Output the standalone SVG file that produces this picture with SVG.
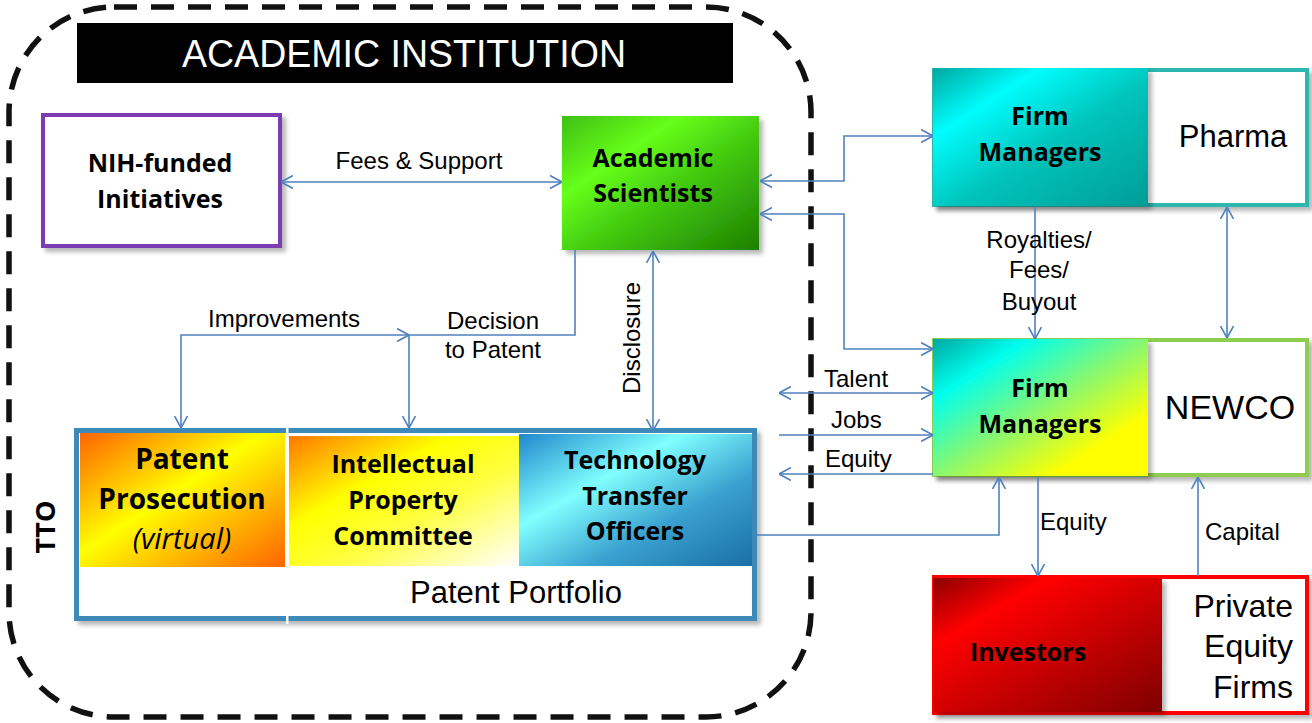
<svg xmlns="http://www.w3.org/2000/svg" width="1312" height="723" viewBox="0 0 1312 723">
<defs>
<style>
.bold{font-family:"Open Sans","Liberation Sans",sans-serif;font-weight:bold;font-size:25px;fill:#000;text-anchor:middle}
.lbl{font-family:"Liberation Sans",Arial,sans-serif;font-size:24px;fill:#000}
.big{font-family:"Liberation Sans",Arial,sans-serif;font-size:31px;fill:#000}
.con{fill:none;stroke:#4f81bd;stroke-width:1.6}
.both{marker-start:url(#ah);marker-end:url(#ah)}
.end{marker-end:url(#ah)}
</style>
<marker id="ah" viewBox="0 0 12 14" refX="12" refY="7" markerWidth="12" markerHeight="14" markerUnits="userSpaceOnUse" orient="auto-start-reverse">
<path d="M0,0.5 L12,7 L0,13.5" fill="none" stroke="#4f81bd" stroke-width="1.6"/>
</marker>
<filter id="sh" x="-10%" y="-10%" width="125%" height="130%">
<feDropShadow dx="4" dy="4" stdDeviation="2" flood-color="#000" flood-opacity="0.28"/>
</filter>
<linearGradient id="gGreen" x1="0" y1="0" x2="1" y2="1">
<stop offset="0" stop-color="#3fbf14"/><stop offset="0.3" stop-color="#66ff1a"/><stop offset="0.55" stop-color="#44cc10"/><stop offset="1" stop-color="#1d8000"/>
</linearGradient>
<linearGradient id="gTeal" x1="0" y1="0" x2="1" y2="1">
<stop offset="0" stop-color="#00a8a0"/><stop offset="0.25" stop-color="#00fdfd"/><stop offset="0.55" stop-color="#00c4bb"/><stop offset="1" stop-color="#009d96"/>
</linearGradient>
<linearGradient id="gNew" x1="0" y1="0" x2="1" y2="1">
<stop offset="0" stop-color="#00a8a0"/><stop offset="0.22" stop-color="#00ffee"/><stop offset="0.5" stop-color="#88f870"/><stop offset="0.78" stop-color="#ffff00"/><stop offset="1" stop-color="#ffff00"/>
</linearGradient>
<linearGradient id="gRed" x1="0" y1="0" x2="1" y2="1">
<stop offset="0" stop-color="#8c0000"/><stop offset="0.25" stop-color="#ff0000"/><stop offset="0.55" stop-color="#cc0000"/><stop offset="1" stop-color="#7e0000"/>
</linearGradient>
<linearGradient id="gOrange" x1="0" y1="0" x2="1" y2="1">
<stop offset="0" stop-color="#ff6400"/><stop offset="0.45" stop-color="#ffff00"/><stop offset="1" stop-color="#ff6400"/>
</linearGradient>
<linearGradient id="gIP" x1="0" y1="0" x2="1" y2="1">
<stop offset="0" stop-color="#ff7800"/><stop offset="0.35" stop-color="#ffff00"/><stop offset="0.6" stop-color="#ffff40"/><stop offset="1" stop-color="#ffffff"/>
</linearGradient>
<linearGradient id="gBlue" x1="0" y1="0" x2="1" y2="1">
<stop offset="0" stop-color="#1f88cc"/><stop offset="0.35" stop-color="#80ffff"/><stop offset="0.65" stop-color="#3aa2d0"/><stop offset="1" stop-color="#1a6ea6"/>
</linearGradient>
</defs>

<rect width="1312" height="723" fill="#fff"/>

<g id="academic-institution">
<rect x="9" y="7" width="802" height="710" rx="105" ry="105" fill="none" stroke="#111" stroke-width="5.5" stroke-dasharray="23 14"/>
<rect x="77" y="23" width="656" height="60" fill="#000"/>
<text x="404" y="67" font-family="Liberation Sans, Arial, sans-serif" font-size="38" fill="#fff" text-anchor="middle" textLength="444" lengthAdjust="spacingAndGlyphs">ACADEMIC INSTITUTION</text>
</g>

<g id="nih">
<rect x="43" y="115" width="237" height="131" fill="#fff" stroke="#7b3db3" stroke-width="4" filter="url(#sh)"/>
<text class="bold" x="160" y="172">NIH-funded</text>
<text class="bold" x="160" y="208">Initiatives</text>
</g>

<g id="scientists">
<rect x="562" y="116" width="197" height="134" fill="url(#gGreen)" filter="url(#sh)"/>
<text class="bold" x="653" y="167">Academic</text>
<text class="bold" x="653" y="202">Scientists</text>
</g>

<g id="pharma">
<rect x="934" y="70" width="373" height="135" fill="#fff" stroke="#2fb7ae" stroke-width="4" filter="url(#sh)"/>
<rect x="933" y="68" width="215" height="138" fill="url(#gTeal)" filter="url(#sh)"/>
<text class="bold" x="1040" y="125">Firm</text>
<text class="bold" x="1040" y="161">Managers</text>
<text class="big" x="1233" y="147" text-anchor="middle">Pharma</text>
</g>

<g id="newco">
<rect x="934" y="340" width="373" height="135" fill="#fff" stroke="#8fcd50" stroke-width="4" filter="url(#sh)"/>
<rect x="933" y="339" width="215" height="137" fill="url(#gNew)" filter="url(#sh)"/>
<text class="bold" x="1040" y="397">Firm</text>
<text class="bold" x="1040" y="433">Managers</text>
<text class="big" x="1230" y="419" text-anchor="middle" style="font-size:34px">NEWCO</text>
</g>

<g id="private-equity">
<rect x="934" y="577" width="373" height="136" fill="#fff" stroke="#ff0000" stroke-width="4" filter="url(#sh)"/>
<rect x="933" y="578" width="229" height="134" fill="url(#gRed)" filter="url(#sh)"/>
<text class="bold" x="1028" y="661">Investors</text>
<text class="big" x="1293" y="617" text-anchor="end" style="font-size:32px">Private</text>
<text class="big" x="1293" y="657" text-anchor="end" style="font-size:32px">Equity</text>
<text class="big" x="1293" y="698" text-anchor="end" style="font-size:32px">Firms</text>
</g>

<g id="tto">
<rect x="76.5" y="430.5" width="678" height="188" fill="#fff" stroke="#3d8ab8" stroke-width="5" filter="url(#sh)"/>
<rect x="286" y="426" width="2.5" height="198" fill="#fff"/>
<text x="55" y="527" transform="rotate(-90 55 527)" font-family="Open Sans, Liberation Sans, sans-serif" font-weight="bold" font-size="27" text-anchor="middle">TTO</text>
<text class="big" x="516" y="603" text-anchor="middle">Patent Portfolio</text>
</g>

<g id="patent-prosecution">
<rect x="80" y="433" width="205" height="134" fill="url(#gOrange)"/>
<text class="bold" x="182" y="469" style="font-size:28px">Patent</text>
<text class="bold" x="182" y="509" style="font-size:28px">Prosecution</text>
<text x="182" y="549" font-family="Open Sans, Liberation Sans, sans-serif" font-style="italic" font-size="29" text-anchor="middle">(virtual)</text>
</g>

<g id="ip-committee">
<rect x="289" y="436" width="230" height="130" fill="url(#gIP)"/>
<text class="bold" x="403" y="473">Intellectual</text>
<text class="bold" x="403" y="509">Property</text>
<text class="bold" x="403" y="545">Committee</text>
</g>

<g id="tt-officers">
<rect x="519" y="434" width="233" height="132" fill="url(#gBlue)"/>
<text class="bold" x="635" y="469">Technology</text>
<text class="bold" x="635" y="505">Transfer</text>
<text class="bold" x="635" y="540">Officers</text>
</g>

<g id="connectors">
<path class="con both" d="M281,182 H562"/>
<path class="con both" d="M760,181 H844 V136 H933"/>
<path class="con both" d="M760,214 H844 V349 H933"/>
<path class="con end" d="M575,250 V335 H409 V428"/>
<path class="con both" d="M181,428 V335 H409"/>
<path class="con both" d="M653,251 V431"/>
<path class="con both" d="M779,393 H933"/>
<path class="con end" d="M779,435 H933"/>
<path class="con end" d="M933,474 H779"/>
<path class="con end" d="M757,535 H999 V477"/>
<path class="con end" d="M1035,206 V339"/>
<path class="con both" d="M1227,207 V338"/>
<path class="con end" d="M1038,477 V576"/>
<path class="con end" d="M1198,576 V477"/>
</g>

<g id="labels">
<text class="lbl" x="419" y="169" text-anchor="middle">Fees &amp; Support</text>
<text class="lbl" x="284" y="327" text-anchor="middle">Improvements</text>
<text class="lbl" x="493" y="329" text-anchor="middle">Decision</text>
<text class="lbl" x="493" y="358" text-anchor="middle">to Patent</text>
<text class="lbl" x="640" y="338" text-anchor="middle" transform="rotate(-90 640 338)">Disclosure</text>
<text class="lbl" x="824" y="387">Talent</text>
<text class="lbl" x="831" y="428">Jobs</text>
<text class="lbl" x="825" y="467">Equity</text>
<text class="lbl" x="1039" y="248" text-anchor="middle">Royalties/</text>
<text class="lbl" x="1039" y="278" text-anchor="middle">Fees/</text>
<text class="lbl" x="1039" y="310" text-anchor="middle">Buyout</text>
<text class="lbl" x="1040" y="530">Equity</text>
<text class="lbl" x="1205" y="540">Capital</text>
</g>
</svg>
